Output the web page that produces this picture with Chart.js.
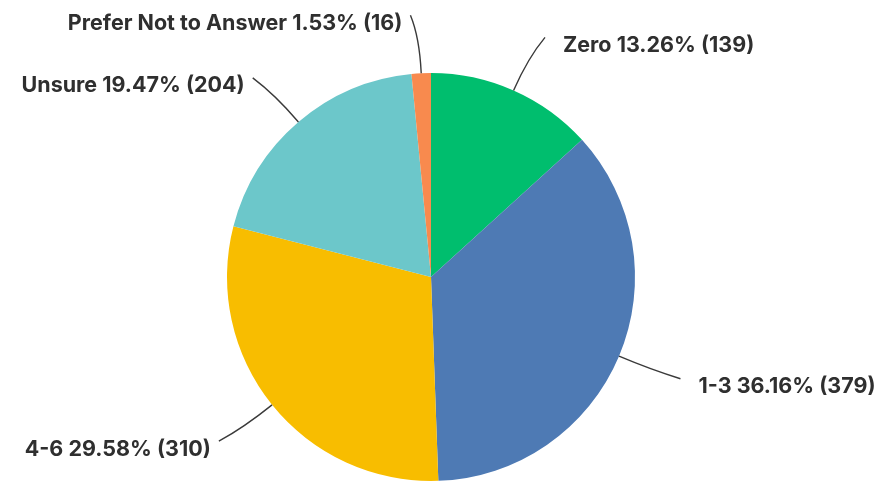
<!DOCTYPE html>
<html>
<head>
<meta charset="utf-8">
<script src="https://cdn.jsdelivr.net/npm/chart.js@4"></script>
<style>
  body { margin: 0; background: #fff; }
  #wrap { width: 878px; height: 482px; }
</style>
</head>
<body>
<div id="wrap"><canvas id="pie" width="878" height="482"></canvas></div>
<script>
// ---- DATA ----
const labels = ['Zero', '1-3', '4-6', 'Unsure', 'Prefer Not to Answer'];
const counts = [139, 379, 310, 204, 16];
const colors = ['#00BE6E', '#4E7AB4', '#F8BD00', '#6CC7CA', '#F88A4E'];

const total = counts.reduce((a, b) => a + b, 0);

// ---- LEADER LABELS ----
const leaderLabels = {
  id: 'leaderLabels',
  afterDatasetsDraw(chart) {
    const ctx = chart.ctx;
    const meta = chart.getDatasetMeta(0);
    ctx.save();
    ctx.font = '700 21.5px Inter, Roboto, sans-serif';
    ctx.textBaseline = 'middle';
    meta.data.forEach((arc, i) => {
      const p = arc.getProps(['x', 'y', 'startAngle', 'endAngle', 'outerRadius'], true);
      const mid = (p.startAngle + p.endAngle) / 2;
      const cx = Math.cos(mid), cy = Math.sin(mid);
      const side = cx >= 0 ? 1 : -1;
      const r = p.outerRadius;
      const sx = p.x + cx * r, sy = p.y + cy * r;
      const qx = p.x + cx * (r + 36), qy = p.y + cy * (r + 36);
      const ex = p.x + cx * (r + 58) + side * 8, ey = p.y + cy * (r + 58);

      ctx.strokeStyle = '#3a3a3a';
      ctx.lineWidth = 1.4;
      ctx.beginPath();
      ctx.moveTo(sx, sy);
      ctx.quadraticCurveTo(qx, qy, ex, ey);
      ctx.stroke();

      const pct = (counts[i] / total * 100).toFixed(2);
      const txt = labels[i] + ' ' + pct + '% (' + counts[i] + ')';
      ctx.fillStyle = '#2f2f2f';
      ctx.textAlign = side > 0 ? 'left' : 'right';
      ctx.fillText(txt, ex + (side > 0 ? 18 : -8), ey + 8);
    });
    ctx.restore();
  }
};

new Chart(document.getElementById('pie'), {
  type: 'pie',
  data: {
    labels: labels,
    datasets: [{
      data: counts,
      backgroundColor: colors,
      borderWidth: 0
    }]
  },
  options: {
    responsive: false,
    devicePixelRatio: 1,
    animation: false,
    layout: { padding: { top: 73, bottom: 1, left: 227, right: 243 } },
    plugins: {
      legend: { display: false },
      tooltip: { enabled: false }
    }
  },
  plugins: [leaderLabels]
});
</script>
</body>
</html>
